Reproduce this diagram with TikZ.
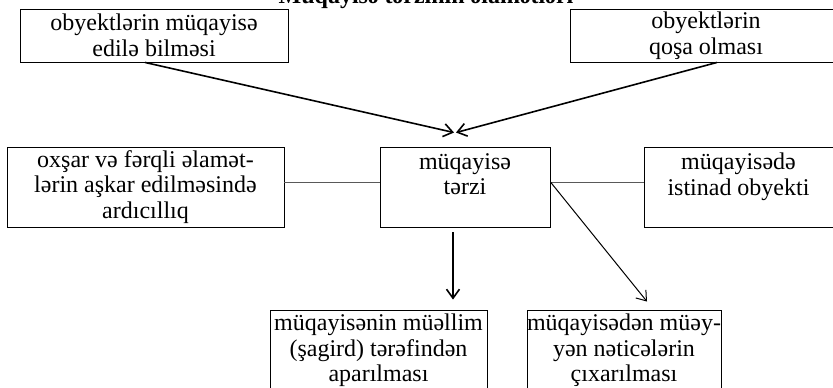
\documentclass[tikz,border=0pt]{standalone}
\usepackage{fontspec}
\setmainfont{Liberation Serif}
\usetikzlibrary{positioning,arrows.meta,calc}
\tikzset{
box/.style={
draw,
line width=0.9pt,
align=center,
inner sep=0pt,
font=\fontsize{24}{25.5}\selectfont
},
arrow/.style={
-{Straight Barb[length=9pt,width=13pt]},
line width=1.6pt
},
thinarrow/.style={
-{Straight Barb[length=9pt,width=13pt]},
line width=1pt
},
link/.style={
draw=black!65,
line width=0.9pt
}
}

\begin{document}
\begin{tikzpicture}[x=1pt,y=-1pt]
\clip (0,0) rectangle (833,388);
\useasboundingbox (0,0) rectangle (833,388);
\node[anchor=base,font=\fontsize{24}{26}\selectfont\bfseries](title) at (426,3){Müqayisə tərzinin əlamətləri};

\node[box,minimum width=268pt,minimum height=53pt](obj) at (154,35.5){obyektlərin müqayisə\\edilə bilməsi};
\node[box,minimum width=272pt,minimum height=53pt](pair) at (706,35.5){obyektlərin\\qoşa olması};
\node[box,minimum width=277pt,minimum height=80pt](order) at (145.5,187){oxşar və fərqli əlamət-\\lərin aşkar edilməsində\\ardıcıllıq};
\node[box,minimum width=170pt,minimum height=80pt](way) at (465,187){müqayisə\\tərzi\\\mbox{}};
\node[box,minimum width=189pt,minimum height=80pt](ref) at (738.5,187){müqayisədə\\istinad obyekti\\\mbox{}};
\node[box,minimum width=217pt,minimum height=81pt](lead) at (378.5,350.5){müqayisənin müəllim\\(şagird) tərəfindən\\aparılması};
\node[box,minimum width=192pt,minimum height=81pt](result) at (624,350.5){müqayisədən müəy-\\yən nəticələrin\\çıxarılması};

\coordinate (meet) at ([xshift=-11pt,yshift=14pt]way.north);

\draw[arrow]([xshift=-9pt]obj.south)--(meet);
\draw[arrow]([xshift=11pt]pair.south)--([xshift=2pt]meet);
\draw[link]([yshift=5pt]order.east)--([yshift=5pt]way.west);
\draw[link]([yshift=5pt]way.east)--([yshift=5pt]ref.west);
\draw[arrow,shorten <=5pt,shorten >=10pt]([xshift=-12pt]way.south)--([xshift=-12pt]way.south |- lead.north);
\draw[thinarrow]([yshift=5pt]way.east)--([xshift=23pt,yshift=8pt]result.north);
\end{tikzpicture}
\end{document}
